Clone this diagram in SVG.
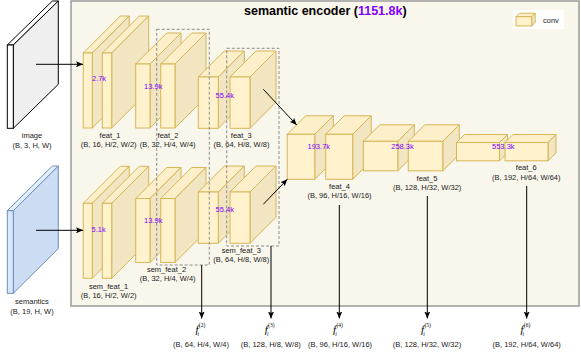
<svg xmlns="http://www.w3.org/2000/svg" width="581" height="353" viewBox="0 0 581 353">
<style>
.fr{fill:#fff2cc;stroke:#d6b656;stroke-width:1}
.tp{fill:#fcefc9;stroke:#d6b656;stroke-width:1;stroke-linejoin:round}
.sd{fill:#f2e5c1;stroke:#d6b656;stroke-width:1;stroke-linejoin:round}
.lbl{font-family:"Liberation Sans",Arial,sans-serif;font-size:7.5px;fill:#1a1a1a;text-anchor:middle}
.num{font-family:"Liberation Sans",Arial,sans-serif;font-size:7.5px;fill:#7f00ff;text-anchor:middle}
.dash{fill:none;stroke:#8c8c8c;stroke-width:1;stroke-dasharray:3 2}
.con{stroke:#000;stroke-width:1;fill:none;marker-end:url(#ah)}
.fm{font-family:"Liberation Serif","Times New Roman",serif;fill:#000}
</style>
<defs>
<marker id="ah" markerWidth="8" markerHeight="6" refX="7" refY="3" orient="auto" markerUnits="userSpaceOnUse">
<path d="M0,0 L7,3 L0,6 L1.5,3 z" fill="#000"/>
</marker>
</defs>

<g id="encoder-box">
<rect x="71" y="1" width="508" height="305" fill="#f9f6ec" stroke="#9a9a9a" stroke-width="1.5"/>
<text x="325.3" y="15" font-family="Liberation Sans,Arial,sans-serif" font-size="12.5" font-weight="bold" text-anchor="middle" fill="#000">semantic encoder (<tspan fill="#7f00ff">1151.8k</tspan>)</text>
</g>

<g id="legend">
<rect x="513" y="10" width="51" height="19" fill="#ffffff"/>
<polygon class="tp" points="516,16.7 531.7,16.7 535.2,13.2 519.5,13.2"/>
<polygon class="sd" points="531.7,16.7 535.2,13.2 535.2,22.5 531.7,26"/>
<rect class="fr" x="516" y="16.7" width="15.7" height="9.3"/>
<text x="543" y="23" font-family="Liberation Sans,Arial,sans-serif" font-size="7.5" fill="#1a1a1a">conv</text>
</g>

<g id="image">
<polygon points="7.3,45 13.3,45 58.3,1 52.3,1" fill="#ffffff" stroke="#000" stroke-width="1" stroke-linejoin="round"/>
<polygon points="13.3,45 58.3,1 58.3,84.3 13.3,128.3" fill="#efefef" stroke="#000" stroke-width="1" stroke-linejoin="round"/>
<rect x="7.3" y="45" width="6" height="83.3" fill="#ffffff" stroke="#000" stroke-width="1"/>
<text class="lbl" x="32" y="138">image</text>
<text class="lbl" x="32" y="147.5">(B, 3, H, W)</text>
</g>

<g id="semantics">
<polygon points="7.3,210.7 13.3,210.7 58.3,166 52.3,166" fill="#e3eefd" stroke="#6c8ebf" stroke-width="1" stroke-linejoin="round"/>
<polygon points="13.3,210.7 58.3,166 58.3,248.6 13.3,293.3" fill="#cbdcf3" stroke="#6c8ebf" stroke-width="1" stroke-linejoin="round"/>
<rect x="7.3" y="210.7" width="6" height="82.6" fill="#dae8fc" stroke="#6c8ebf" stroke-width="1"/>
<text class="lbl" x="32" y="304">semantics</text>
<text class="lbl" x="32" y="313.5">(B, 19, H, W)</text>
</g>

<g id="feat_1">
<polygon class="tp" points="83.3,53 92.3,53 129.3,16 120.3,16"/>
<polygon class="sd" points="92.3,53 129.3,16 129.3,91 92.3,128"/>
<rect class="fr" x="83.3" y="53" width="9" height="75"/>
<polygon class="tp" points="102.3,53 111.7,53 148.7,16 139.3,16"/>
<polygon class="sd" points="111.7,53 148.7,16 148.7,91 111.7,128"/>
<rect class="fr" x="102.3" y="53" width="9.4" height="75"/>
<text class="lbl" x="110" y="137.5">feat_1</text>
<text class="lbl" x="108.7" y="147">(B, 16, H/2, W/2)</text>
</g>

<g id="feat_2">
<polygon class="tp" points="135.7,64 150,64 181,33 166.7,33"/>
<polygon class="sd" points="150,64 181,33 181,97 150,128"/>
<rect class="fr" x="135.7" y="64" width="14.3" height="64"/>
<polygon class="tp" points="160.7,64 175,64 206,33 191.7,33"/>
<polygon class="sd" points="175,64 206,33 206,97 175,128"/>
<rect class="fr" x="160.7" y="64" width="14.3" height="64"/>
<text class="lbl" x="168" y="137.5">feat_2</text>
<text class="lbl" x="167.7" y="147">(B, 32, H/4, W/4)</text>
</g>

<g id="feat_3">
<polygon class="tp" points="198.3,77 218.3,77 244.3,51 224.3,51"/>
<polygon class="sd" points="218.3,77 244.3,51 244.3,102.3 218.3,128.3"/>
<rect class="fr" x="198.3" y="77" width="20" height="51.3"/>
<polygon class="tp" points="230,77 250,77 276,51 256,51"/>
<polygon class="sd" points="250,77 276,51 276,102.3 250,128.3"/>
<rect class="fr" x="230" y="77" width="20" height="51.3"/>
<text class="lbl" x="241.3" y="138">feat_3</text>
<text class="lbl" x="241.5" y="147.3">(B, 64, H/8, W/8)</text>
</g>

<g id="sem_feat_1">
<polygon class="tp" points="83.3,203.3 92.3,203.3 129.3,166.3 120.3,166.3"/>
<polygon class="sd" points="92.3,203.3 129.3,166.3 129.3,241.3 92.3,278.3"/>
<rect class="fr" x="83.3" y="203.3" width="9" height="75"/>
<polygon class="tp" points="102.3,203.3 111.7,203.3 148.7,166.3 139.3,166.3"/>
<polygon class="sd" points="111.7,203.3 148.7,166.3 148.7,241.3 111.7,278.3"/>
<rect class="fr" x="102.3" y="203.3" width="9.4" height="75"/>
<text class="lbl" x="108.5" y="289">sem_feat_1</text>
<text class="lbl" x="108.7" y="298">(B, 16, H/2, W/2)</text>
</g>

<g id="sem_feat_2">
<polygon class="tp" points="135.7,198.5 150,198.5 181,167.5 166.7,167.5"/>
<polygon class="sd" points="150,198.5 181,167.5 181,231.5 150,262.5"/>
<rect class="fr" x="135.7" y="198.5" width="14.3" height="64"/>
<polygon class="tp" points="160.7,198.5 175,198.5 206,167.5 191.7,167.5"/>
<polygon class="sd" points="175,198.5 206,167.5 206,231.5 175,262.5"/>
<rect class="fr" x="160.7" y="198.5" width="14.3" height="64"/>
<text class="lbl" x="166.5" y="272">sem_feat_2</text>
<text class="lbl" x="167.7" y="281">(B, 32, H/4, W/4)</text>
</g>

<g id="sem_feat_3">
<polygon class="tp" points="198.3,192 218.3,192 244.3,166 224.3,166"/>
<polygon class="sd" points="218.3,192 244.3,166 244.3,217.3 218.3,243.3"/>
<rect class="fr" x="198.3" y="192" width="20" height="51.3"/>
<polygon class="tp" points="230,192 250,192 276,166 256,166"/>
<polygon class="sd" points="250,192 276,166 276,217.3 250,243.3"/>
<rect class="fr" x="230" y="192" width="20" height="51.3"/>
<text class="lbl" x="241.3" y="252.7">sem_feat_3</text>
<text class="lbl" x="241.3" y="261.8">(B, 64, H/8, W/8)</text>
</g>

<g id="feat_4">
<polygon class="tp" points="287.3,134.3 314.8,134.3 333.3,115.8 305.8,115.8"/>
<polygon class="sd" points="314.8,134.3 333.3,115.8 333.3,160.8 314.8,179.3"/>
<rect class="fr" x="287.3" y="134.3" width="27.5" height="45"/>
<polygon class="tp" points="325.7,134.3 352.7,134.3 371.2,115.8 344.2,115.8"/>
<polygon class="sd" points="352.7,134.3 371.2,115.8 371.2,160.8 352.7,179.3"/>
<rect class="fr" x="325.7" y="134.3" width="27" height="45"/>
<text class="lbl" x="339.5" y="188.5">feat_4</text>
<text class="lbl" x="339.5" y="197.7">(B, 96, H/16, W/16)</text>
</g>

<g id="feat_5">
<polygon class="tp" points="363.3,141.3 397.8,141.3 414.3,124.8 379.8,124.8"/>
<polygon class="sd" points="397.8,141.3 414.3,124.8 414.3,154.3 397.8,170.8"/>
<rect class="fr" x="363.3" y="141.3" width="34.5" height="29.5"/>
<polygon class="tp" points="408.3,141.3 442.8,141.3 459.3,124.8 424.8,124.8"/>
<polygon class="sd" points="442.8,141.3 459.3,124.8 459.3,154.3 442.8,170.8"/>
<rect class="fr" x="408.3" y="141.3" width="34.5" height="29.5"/>
<text class="lbl" x="427" y="180.7">feat_5</text>
<text class="lbl" x="427.2" y="190">(B, 128, H/32, W/32)</text>
</g>

<g id="feat_6">
<polygon class="tp" points="456.5,142.5 499.5,142.5 507.5,134.5 464.5,134.5"/>
<polygon class="sd" points="499.5,142.5 507.5,134.5 507.5,152.8 499.5,160.8"/>
<rect class="fr" x="456.5" y="142.5" width="43" height="18.3"/>
<polygon class="tp" points="505,142.5 548,142.5 556,134.5 513,134.5"/>
<polygon class="sd" points="548,142.5 556,134.5 556,152.8 548,160.8"/>
<rect class="fr" x="505" y="142.5" width="43" height="18.3"/>
<text class="lbl" x="526.3" y="170">feat_6</text>
<text class="lbl" x="526.3" y="180">(B, 192, H/64, W/64)</text>
</g>

<g id="groups">
<rect class="dash" x="156.7" y="29.3" width="52.6" height="235.7"/>
<rect class="dash" x="226.7" y="48.3" width="52.3" height="197.7"/>
</g>

<g id="params">
<text class="num" x="99" y="80.5">2.7k</text>
<text class="num" x="153.3" y="89">13.9k</text>
<text class="num" x="224.8" y="98.3">55.4k</text>
<text class="num" x="98.7" y="231.7">5.1k</text>
<text class="num" x="153.3" y="223.3">13.9k</text>
<text class="num" x="224.8" y="212.3">55.4k</text>
<text class="num" x="318.8" y="149.3">193.7k</text>
<text class="num" x="402.5" y="149.3">258.3k</text>
<text class="num" x="503.3" y="149">553.3k</text>
</g>

<g id="connectors">
<line class="con" x1="36" y1="64.3" x2="83" y2="64.3"/>
<line class="con" x1="36" y1="230.3" x2="83" y2="230.3"/>
<line class="con" x1="263.3" y1="89.3" x2="296.7" y2="125"/>
<line class="con" x1="263.3" y1="204.3" x2="287.3" y2="179.3"/>
<line class="con" x1="201.7" y1="265" x2="201.7" y2="318.5"/>
<line class="con" x1="271" y1="246" x2="271" y2="318.5"/>
<line class="con" x1="339.3" y1="205" x2="339.3" y2="318.5"/>
<line class="con" x1="427.3" y1="196" x2="427.3" y2="318.5"/>
<line class="con" x1="526.7" y1="186" x2="526.7" y2="318.5"/>
</g>

<g id="outputs">
<g id="f2"><text class="fm" x="195.5" y="333" font-size="11" font-style="italic">f</text><text class="fm" x="198.8" y="327" font-size="5.5">(2)</text><text class="fm" x="197.6" y="335.8" font-size="5.5" font-style="italic">i</text>
<text class="lbl" x="201" y="346.7">(B, 64, H/4, W/4)</text></g>
<g id="f3"><text class="fm" x="264.8" y="333" font-size="11" font-style="italic">f</text><text class="fm" x="268.1" y="327" font-size="5.5">(3)</text><text class="fm" x="266.9" y="335.8" font-size="5.5" font-style="italic">i</text>
<text class="lbl" x="270.8" y="346.7">(B, 128, H/8, W/8)</text></g>
<g id="f4"><text class="fm" x="333.1" y="333" font-size="11" font-style="italic">f</text><text class="fm" x="336.4" y="327" font-size="5.5">(4)</text><text class="fm" x="335.2" y="335.8" font-size="5.5" font-style="italic">i</text>
<text class="lbl" x="340" y="346.7">(B, 96, H/16, W/16)</text></g>
<g id="f5"><text class="fm" x="421.1" y="333" font-size="11" font-style="italic">f</text><text class="fm" x="424.4" y="327" font-size="5.5">(5)</text><text class="fm" x="423.2" y="335.8" font-size="5.5" font-style="italic">i</text>
<text class="lbl" x="427" y="346.7">(B, 128, H/32, W/32)</text></g>
<g id="f6"><text class="fm" x="520.5" y="333" font-size="11" font-style="italic">f</text><text class="fm" x="523.8" y="327" font-size="5.5">(6)</text><text class="fm" x="522.6" y="335.8" font-size="5.5" font-style="italic">i</text>
<text class="lbl" x="526.7" y="346.7">(B, 192, H/64, W/64)</text></g>
</g>
</svg>
